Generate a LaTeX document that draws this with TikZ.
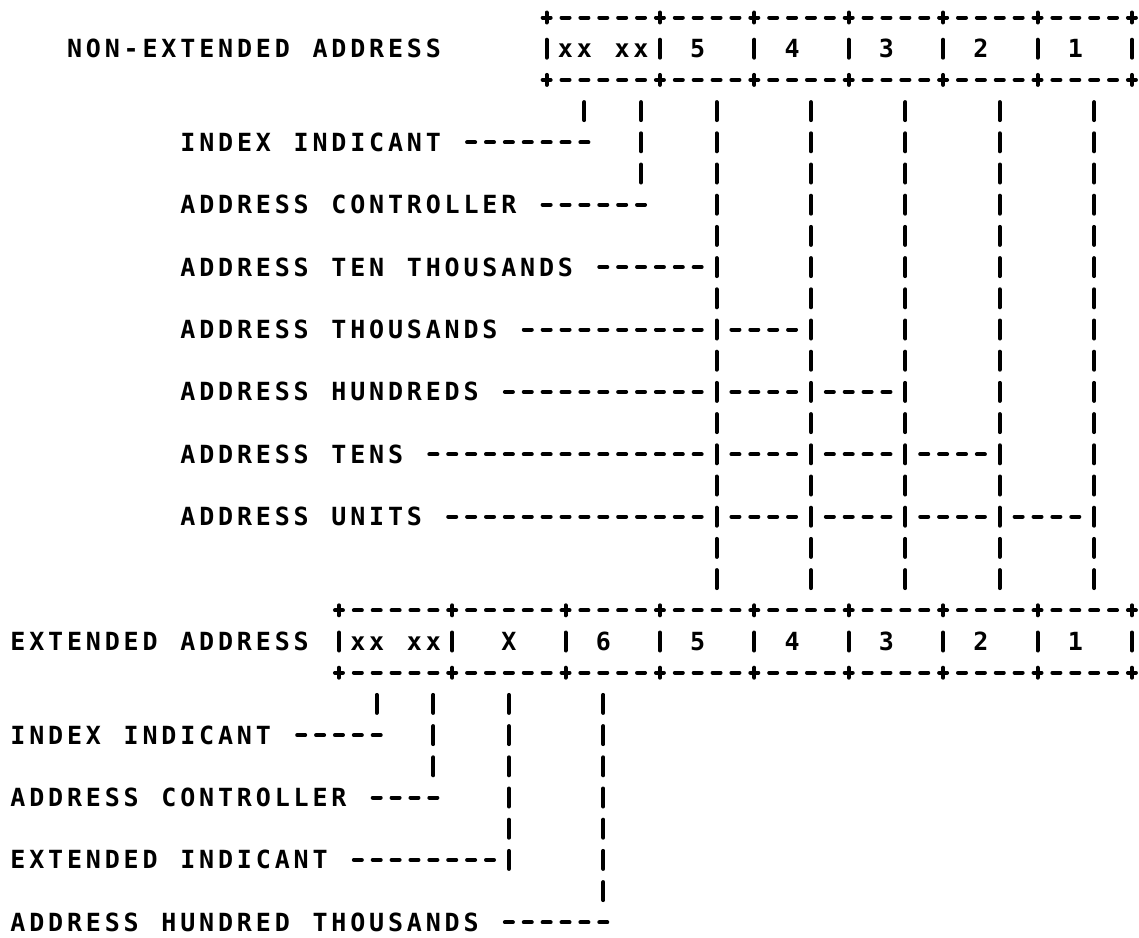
\documentclass[tikz,border=0pt]{standalone}
\usepackage{fontspec}
\newfontfamily\twfont{DejaVu Sans Mono}
\makeatletter
\def\mono@end{\mono@end}
\def\mono#1{\mono@a#1\mono@end}
\def\mono@a#1{\ifx#1\mono@end\else\makebox[18.88pt]{#1}\expandafter\mono@a\fi}
\makeatother
\tikzset{
  twtext/.style={inner sep=0pt, outer sep=0pt, yshift=-9pt,
    font=\twfont\bfseries\fontsize{25pt}{29pt}\selectfont},
  lbl/.style={twtext, anchor=base west},
  cell/.style={twtext, anchor=base},
  hd/.style={line width=4pt, line cap=round, dash pattern=on 8pt off 10.88pt},
  vd/.style={line width=4pt, line cap=round, dash pattern=on 18pt off 13.2pt},
  pv/.style={line width=4pt, line cap=round,
    dash pattern=on 10pt off 17.2pt on 18pt off 17.2pt on 10pt off 60pt},
}
\begin{document}
\begin{tikzpicture}[x=18.88pt, y=-31.2pt]
\fill[white] (-0.9534,-0.5609) rectangle (59.375,29.503);
\useasboundingbox (-0.9534,-0.5609) rectangle (59.375,29.503);

% ---------- non-extended address box ----------
\node[lbl] (lblNE) at (2.5,1) {\mono{NON-EXTENDED~ADDRESS}};
\foreach \c in {28,34,39,44,49,54,59}
  \draw[pv] ([yshift=5pt]\c,0) -- ([yshift=-5pt]\c,2);
\draw[hd] ([xshift=-4pt]28,0) -- ([xshift=4pt]59,0);
\draw[hd] ([xshift=-4pt]28,2) -- ([xshift=4pt]59,2);
\node[cell] (txx) at (31,1) {\mono{xx~xx}};
\node[cell] (t5) at (36,1) {\mono{5}};
\node[cell] (t4) at (41,1) {\mono{4}};
\node[cell] (t3) at (46,1) {\mono{3}};
\node[cell] (t2) at (51,1) {\mono{2}};
\node[cell] (t1) at (56,1) {\mono{1}};

% ---------- extended address box ----------
\node[lbl] (lblE) at (-0.5,20) {\mono{EXTENDED~ADDRESS}};
\foreach \c in {17,23,29,34,39,44,49,54,59}
  \draw[pv] ([yshift=5pt]\c,19) -- ([yshift=-5pt]\c,21);
\draw[hd] ([xshift=-4pt]17,19) -- ([xshift=4pt]59,19);
\draw[hd] ([xshift=-4pt]17,21) -- ([xshift=4pt]59,21);
\node[cell] (bxx) at (20,20) {\mono{xx~xx}};
\node[cell] (bX) at (26,20) {\mono{X}};
\node[cell] (b6) at (31,20) {\mono{6}};
\node[cell] (b5) at (36,20) {\mono{5}};
\node[cell] (b4) at (41,20) {\mono{4}};
\node[cell] (b3) at (46,20) {\mono{3}};
\node[cell] (b2) at (51,20) {\mono{2}};
\node[cell] (b1) at (56,20) {\mono{1}};

% ---------- digit columns linking the two boxes ----------
\foreach \c in {37,42,47,52,57} {
  \coordinate (u\c) at (\c,3);
  \coordinate (v\c) at (\c,18);
  \draw[vd] ([yshift=9pt]u\c) -- ([yshift=-9pt]v\c);
}

% ---------- upper labels ----------
\node[lbl] (tIdx) at (8.5,4) {\mono{INDEX~INDICANT}};
\node[lbl] (tCtl) at (8.5,6) {\mono{ADDRESS~CONTROLLER}};
\node[lbl] (tTT) at (8.5,8) {\mono{ADDRESS~TEN~THOUSANDS}};
\node[lbl] (tTh) at (8.5,10) {\mono{ADDRESS~THOUSANDS}};
\node[lbl] (tHu) at (8.5,12) {\mono{ADDRESS~HUNDREDS}};
\node[lbl] (tTe) at (8.5,14) {\mono{ADDRESS~TENS}};
\node[lbl] (tUn) at (8.5,16) {\mono{ADDRESS~UNITS}};

\coordinate (a30) at (30,3);
\coordinate (a33) at (33,3);
\coordinate (e33) at (33,5);
\draw[vd] ([yshift=9pt]a30) -- ([yshift=-9pt]a30);
\draw[vd] ([yshift=9pt]a33) -- ([yshift=-9pt]e33);
\draw[hd] ([xshift=-4pt]24,4) -- ([xshift=4pt]30,4);
\draw[hd] ([xshift=-4pt]28,6) -- ([xshift=4pt]33,6);
\draw[hd] ([xshift=-4pt]31,8) -- ([xshift=4pt]36,8);
\draw[hd] ([xshift=-4pt]27,10) -- ([xshift=4pt]36,10);
\draw[hd] ([xshift=-4pt]26,12) -- ([xshift=4pt]36,12);
\draw[hd] ([xshift=-4pt]22,14) -- ([xshift=4pt]36,14);
\draw[hd] ([xshift=-4pt]23,16) -- ([xshift=4pt]36,16);
\foreach \r in {10,12,14,16} \draw[hd] ([xshift=-4pt]38,\r) -- ([xshift=4pt]41,\r);
\foreach \r in {12,14,16} \draw[hd] ([xshift=-4pt]43,\r) -- ([xshift=4pt]46,\r);
\foreach \r in {14,16} \draw[hd] ([xshift=-4pt]48,\r) -- ([xshift=4pt]51,\r);
\draw[hd] ([xshift=-4pt]53,16) -- ([xshift=4pt]56,16);

% ---------- lower labels ----------
\node[lbl] (bIdx) at (-0.5,23) {\mono{INDEX~INDICANT}};
\node[lbl] (bCtl) at (-0.5,25) {\mono{ADDRESS~CONTROLLER}};
\node[lbl] (bExt) at (-0.5,27) {\mono{EXTENDED~INDICANT}};
\node[lbl] (bHT) at (-0.5,29) {\mono{ADDRESS~HUNDRED~THOUSANDS}};

\coordinate (c19) at (19,22);
\coordinate (c22) at (22,22);
\coordinate (d22) at (22,24);
\coordinate (c26) at (26,22);
\coordinate (d26) at (26,27);
\coordinate (c31) at (31,22);
\coordinate (d31) at (31,28);
\draw[vd] ([yshift=9pt]c19) -- ([yshift=-9pt]c19);
\draw[vd] ([yshift=9pt]c22) -- ([yshift=-9pt]d22);
\draw[vd] ([yshift=9pt]c26) -- ([yshift=-9pt]d26);
\draw[vd] ([yshift=9pt]c31) -- ([yshift=-9pt]d31);
\draw[hd] ([xshift=-4pt]15,23) -- ([xshift=4pt]19,23);
\draw[hd] ([xshift=-4pt]19,25) -- ([xshift=4pt]22,25);
\draw[hd] ([xshift=-4pt]18,27) -- ([xshift=4pt]25,27);
\draw[hd] ([xshift=-4pt]26,29) -- ([xshift=4pt]31,29);
\end{tikzpicture}
\end{document}
